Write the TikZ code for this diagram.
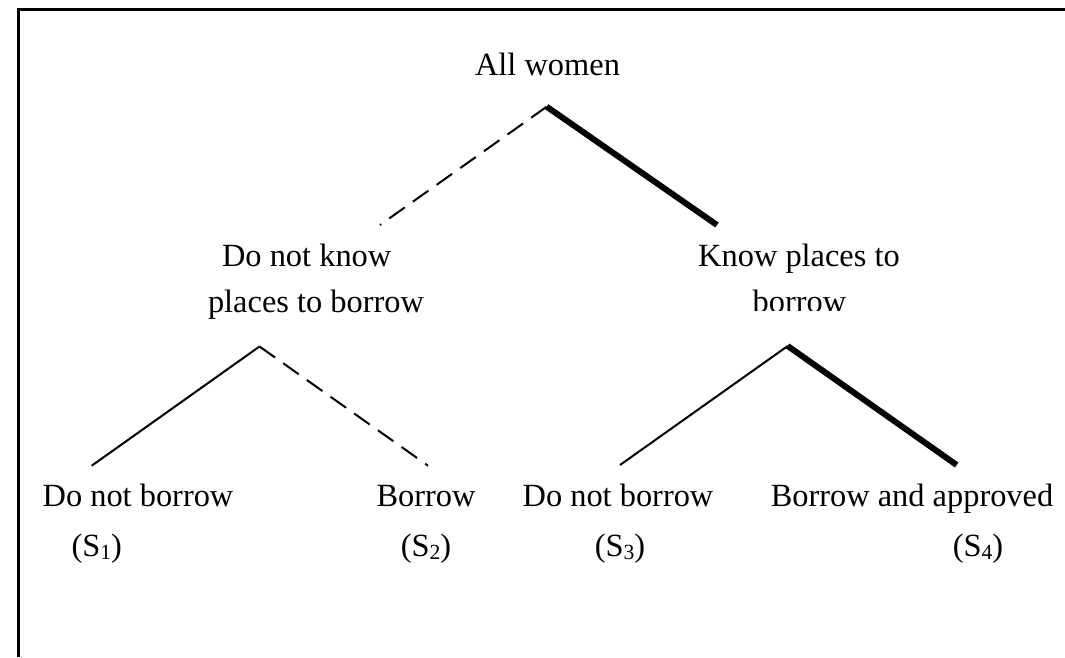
\documentclass[tikz,border=0pt]{standalone}
\usepackage{fontspec}
\setmainfont{Liberation Serif}
\newcommand{\mysub}[1]{\raisebox{-0.12em}{\fontsize{21.6}{21.6}\selectfont #1}}
\begin{document}
\begin{tikzpicture}[x=1pt,y=-1pt,
  lbl/.style={font=\fontsize{32.4}{38}\selectfont, inner sep=0pt, anchor=base},
  edgesolid/.style={line width=2pt},
  edgebold/.style={line width=6pt},
  edgedash/.style={line width=2pt, dash pattern=on 19pt off 10pt},
  frameline/.style={line width=3pt}]
\useasboundingbox (0,0) rectangle (1065,657);
% frame (left and top only)
\coordinate (fb) at (18.3,657);
\coordinate (fc) at (18.3,9.2);
\coordinate (fr) at (1065,9.2);
\draw[frameline] (fb) -- (fc) -- (fr);

% labels
\node[lbl] (all) at (547.5,75) {All women};
\node[lbl] (dnk1) at (306.7,266.5) {Do not know};
\node[lbl] (dnk2) at (316,312.5) {places to borrow};
\node[lbl] (kp1) at (799,266.5) {Know places to};
\begin{scope}
  \clip (740,280) rectangle (860,310.5);
  \node[lbl] (kp2) at (799.5,312.5) {borrow};
\end{scope}
\node[lbl] (l1) at (138,506) {Do not borrow};
\node[lbl] (s1) at (96.7,556) {(S\mysub{1})};
\node[lbl] (l2) at (426,506) {Borrow};
\node[lbl] (s2) at (426,556) {(S\mysub{2})};
\node[lbl] (l3) at (618,506) {Do not borrow};
\node[lbl] (s3) at (620,556) {(S\mysub{3})};
\node[lbl] (l4) at (912,506) {Borrow and approved};
\node[lbl] (s4) at (978,556) {(S\mysub{4})};

% branch points
\coordinate (a0) at (546.7,106.7);
\coordinate (a0l) at (380,225);
\coordinate (a0r) at (717,225);
\coordinate (a1) at (259.5,346.5);
\coordinate (a1l) at (91.7,465.7);
\coordinate (a1r) at (428,465.7);
\coordinate (a2) at (787.7,346);
\coordinate (a2l) at (620,465);
\coordinate (a2r) at (956.7,465);

\draw[edgedash] (a0) -- (a0l);
\draw[edgebold] (a0) -- (a0r);
\draw[edgesolid] (a1) -- (a1l);
\draw[edgedash] (a1) -- (a1r);
\draw[edgesolid] (a2) -- (a2l);
\draw[edgebold] (a2) -- (a2r);
\end{tikzpicture}
\end{document}
